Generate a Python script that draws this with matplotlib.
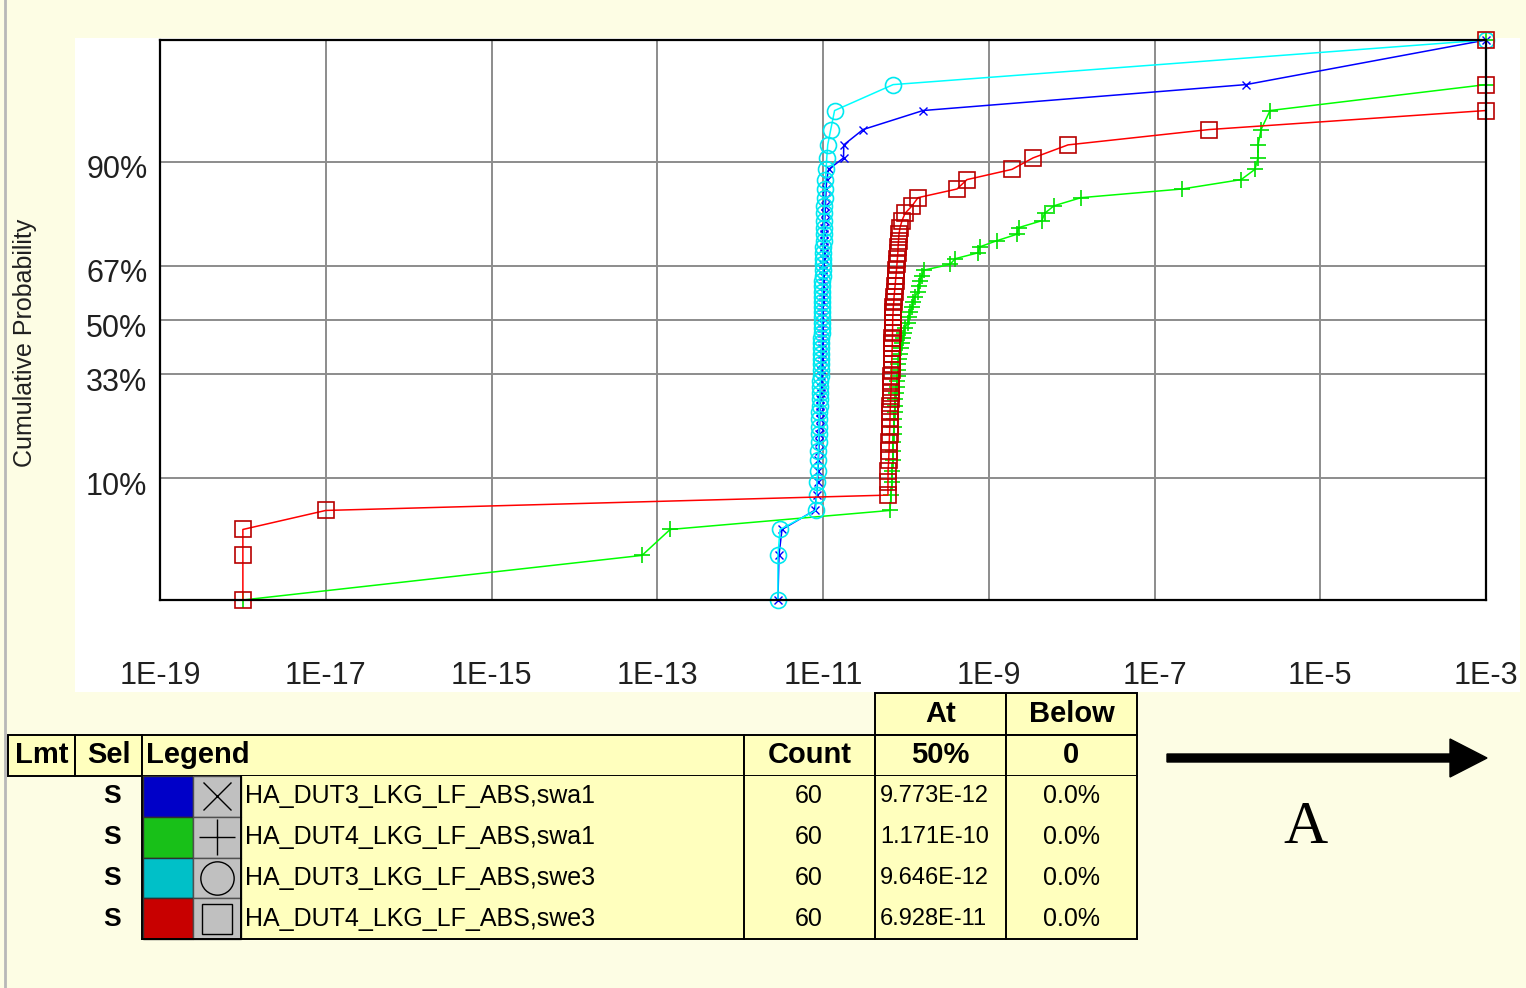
import matplotlib
matplotlib.use("Agg")
import matplotlib.pyplot as plt
from matplotlib.patches import Rectangle, FancyArrow
import matplotlib.transforms as mtransforms
import numpy as np
from statistics import NormalDist

plt.rcParams['font.family'] = ['Liberation Sans', 'DejaVu Sans']

# leakage values (A), sorted, 60 parts per series
blue_vals = [2.86e-12, 2.94e-12, 3.20e-12, 7.9e-12, 8.4e-12, 8.6e-12, 8.7e-12, 8.8e-12, 8.9e-12, 9.0e-12,
             9.05e-12, 9.1e-12, 9.15e-12, 9.2e-12, 9.25e-12, 9.3e-12, 9.35e-12, 9.4e-12, 9.45e-12, 9.5e-12,
             9.53e-12, 9.56e-12, 9.6e-12, 9.63e-12, 9.66e-12, 9.69e-12, 9.72e-12, 9.74e-12, 9.76e-12, 9.77e-12,
             9.78e-12, 9.81e-12, 9.84e-12, 9.87e-12, 9.9e-12, 9.93e-12, 9.96e-12, 1.0e-11, 1.003e-11, 1.006e-11,
             1.01e-11, 1.015e-11, 1.02e-11, 1.025e-11, 1.03e-11, 1.035e-11, 1.04e-11, 1.05e-11, 1.06e-11, 1.07e-11,
             1.08e-11, 1.09e-11, 1.11e-11, 1.17e-11, 1.77e-11, 1.78e-11, 3.04e-11, 1.61e-10, 1.27e-6, 1.0e-3]
green_vals = [1e-18, 6.55e-14, 1.43e-13, 6.43e-11, 6.61e-11, 6.8e-11, 6.8e-11, 7.0e-11, 7.0e-11, 7.0e-11,
              7.1e-11, 7.2e-11, 7.2e-11, 7.3e-11, 7.35e-11, 7.39e-11, 7.6e-11, 7.81e-11, 7.9e-11, 7.95e-11,
              8.0e-11, 8.04e-11, 8.26e-11, 8.49e-11, 8.7e-11, 8.98e-11, 9.24e-11, 9.5e-11, 9.76e-11, 1.06e-10,
              1.09e-10, 1.12e-10, 1.19e-10, 1.22e-10, 1.29e-10, 1.40e-10, 1.44e-10, 1.48e-10, 1.565e-10, 1.66e-10,
              3.41e-10, 3.92e-10, 7.42e-10, 7.79e-10, 1.26e-9, 2.19e-9, 2.30e-9, 4.39e-9, 4.71e-9, 6.13e-9,
              1.30e-8, 2.15e-7, 1.11e-6, 1.63e-6, 1.77e-6, 1.78e-6, 1.93e-6, 2.48e-6, 1.0e-3, 1.0e-3]
cyan_vals = [2.86e-12, 2.86e-12, 3.03e-12, 8.14e-12, 8.37e-12, 8.45e-12, 8.6e-12, 8.7e-12, 8.8e-12, 8.85e-12,
             8.9e-12, 8.95e-12, 9.0e-12, 9.05e-12, 9.1e-12, 9.15e-12, 9.2e-12, 9.25e-12, 9.3e-12, 9.35e-12,
             9.38e-12, 9.42e-12, 9.45e-12, 9.48e-12, 9.51e-12, 9.54e-12, 9.57e-12, 9.6e-12, 9.62e-12, 9.64e-12,
             9.65e-12, 9.68e-12, 9.71e-12, 9.74e-12, 9.77e-12, 9.8e-12, 9.83e-12, 9.86e-12, 9.9e-12, 9.94e-12,
             9.98e-12, 1.0e-11, 1.005e-11, 1.01e-11, 1.015e-11, 1.02e-11, 1.025e-11, 1.03e-11, 1.035e-11, 1.04e-11,
             1.05e-11, 1.06e-11, 1.07e-11, 1.09e-11, 1.11e-11, 1.14e-11, 1.24e-11, 1.38e-11, 7.02e-11, 1.0e-3]
red_vals = [1e-18, 1e-18, 1e-18, 1e-17, 6.08e-11, 6.08e-11, 6.1e-11, 6.2e-11, 6.26e-11, 6.3e-11,
            6.35e-11, 6.4e-11, 6.43e-11, 6.45e-11, 6.5e-11, 6.55e-11, 6.6e-11, 6.63e-11, 6.66e-11, 6.7e-11,
            6.72e-11, 6.75e-11, 6.78e-11, 6.8e-11, 6.83e-11, 6.86e-11, 6.88e-11, 6.9e-11, 6.92e-11, 6.93e-11,
            6.95e-11, 7.0e-11, 7.05e-11, 7.15e-11, 7.2e-11, 7.3e-11, 7.4e-11, 7.5e-11, 7.6e-11, 7.7e-11,
            7.8e-11, 7.9e-11, 8.0e-11, 8.05e-11, 8.15e-11, 8.26e-11, 8.5e-11, 8.98e-11, 9.76e-11, 1.19e-10,
            1.40e-10, 4.14e-10, 5.46e-10, 1.91e-9, 3.42e-9, 9.04e-9, 4.55e-7, 1.0e-3, 1.0e-3, 1.0e-3]

series_names = ["HA_DUT3_LKG_LF_ABS,swa1", "HA_DUT4_LKG_LF_ABS,swa1",
                "HA_DUT3_LKG_LF_ABS,swe3", "HA_DUT4_LKG_LF_ABS,swe3"]
series_counts = ["60", "60", "60", "60"]
series_at50 = ["9.773E-12", "1.171E-10", "9.646E-12", "6.928E-11"]
series_below0 = ["0.0%", "0.0%", "0.0%", "0.0%"]

x_ticks = [1e-19, 1e-17, 1e-15, 1e-13, 1e-11, 1e-9, 1e-7, 1e-5, 1e-3]
x_labels = ["1E-19", "1E-17", "1E-15", "1E-13", "1E-11", "1E-9", "1E-7", "1E-5", "1E-3"]
y_ticks = [0.10, 0.33, 0.50, 0.67, 0.90]
y_labels = ["10%", "33%", "50%", "67%", "90%"]

BG = '#fdfde4'
CELL = '#ffffbe'

_nd = NormalDist()
_ppf = np.vectorize(_nd.inv_cdf, otypes=[float])
_cdf = np.vectorize(_nd.cdf, otypes=[float])


def prob_fwd(p):
    return _ppf(np.clip(np.asarray(p, float), 1e-9, 1 - 1e-9))


def prob_inv(z):
    return _cdf(np.asarray(z, float))


def median_rank(n):
    return (np.arange(1, n + 1) - 0.3) / (n + 0.4)


W, H = 1526, 988
fig = plt.figure(figsize=(W / 100, H / 100), dpi=100)
fig.patch.set_facecolor(BG)

# overlay in pixel coords for background, table, arrow
bg = fig.add_axes([0, 0, 1, 1], zorder=0)
bg.set_xlim(0, W)
bg.set_ylim(H, 0)
bg.axis('off')
bg.add_patch(Rectangle((75, 38), 1445, 654, facecolor='white', edgecolor='none'))
bg.plot([5, 5], [0, H], color='#b8b8b8', lw=2)

ax = fig.add_axes([160 / W, 1 - 600 / H, 1326 / W, 560 / H], zorder=1)
ax.set_facecolor('white')
ax.set_xscale('log')
ax.set_yscale('function', functions=(prob_fwd, prob_inv))

styles = [
    (blue_vals, dict(color='#0000ff', marker='x', ms=6, mec='#0000ff', mfc='none', mew=1.0)),
    (green_vals, dict(color='#00ff00', marker='+', ms=11, mec='#00e000', mew=1.2)),
    (cyan_vals, dict(color='#00ffff', marker='o', ms=11.5, mec='#00e8f0', mfc='none', mew=1.2)),
    (red_vals, dict(color='#ff0000', marker='s', ms=11.5, mec='#b80000', mfc='none', mew=1.2)),
]
for vals, st in styles:
    v = np.sort(np.asarray(vals))
    ax.plot(v, median_rank(len(v)), lw=1.1, clip_on=False, zorder=3, **st)

pr = median_rank(60)
ax.set_xlim(1e-19, 1e-3)
ax.set_ylim(pr[0], pr[-1])
ax.set_xticks(x_ticks)
ax.set_xticklabels(x_labels)
ax.xaxis.set_minor_locator(matplotlib.ticker.NullLocator())
ax.set_yticks(y_ticks)
ax.set_yticklabels(y_labels)
ax.yaxis.set_minor_locator(matplotlib.ticker.NullLocator())
ax.tick_params(axis='x', length=0, pad=44, labelsize=22, labelcolor='#202020')
ax.tick_params(axis='y', length=0, pad=9, labelsize=22, labelcolor='#202020')
shift = mtransforms.ScaledTranslation(0, -5 / 100, fig.dpi_scale_trans)
for lab in ax.get_yticklabels():
    lab.set_transform(lab.get_transform() + shift)
ax.grid(True, color='#8c8c8c', lw=1.4, zorder=1)
ax.set_axisbelow(True)
for s in ax.spines.values():
    s.set_linewidth(1.6)
    s.set_color('black')
    s.set_zorder(4)

fig.text(25 / W, 1 - 343 / H, 'Cumulative Probability', rotation=90,
         fontsize=18, ha='center', va='center', color='#202020')

# ---- table ----
lw_t = 1.4
# top header row (At / Below)
for x0, x1, txt in [(875, 1006, 'At'), (1006, 1137, 'Below')]:
    bg.add_patch(Rectangle((x0, 693), x1 - x0, 42, facecolor=CELL, edgecolor='black', lw=lw_t))
    bg.text((x0 + x1) / 2, 714, txt, fontsize=21, fontweight='bold', ha='center', va='center')

col_edges = [8, 75, 142, 744, 875, 1006, 1137]
hdr = ['Lmt', 'Sel', 'Legend', 'Count', '50%', '0']
for i, txt in enumerate(hdr):
    x0, x1 = col_edges[i], col_edges[i + 1]
    bg.add_patch(Rectangle((x0, 735), x1 - x0, 41, facecolor=CELL, edgecolor='black', lw=lw_t))
    if txt == 'Legend':
        bg.text(x0 + 4, 755, txt, fontsize=21, fontweight='bold', ha='left', va='center')
    else:
        bg.text((x0 + x1) / 2, 755, txt, fontsize=21, fontweight='bold', ha='center', va='center')

row_top = 776
row_h = 40.75
bg.add_patch(Rectangle((142, row_top), 1137 - 142, 4 * row_h, facecolor=CELL, edgecolor='none'))
swatches = ['#0000c8', '#18c018', '#00c0c8', '#c80000']
icons = [('x', 20), ('+', 26), ('o', 24), ('s', 22)]
for r in range(4):
    y0 = row_top + r * row_h
    yc = y0 + row_h / 2
    bg.text(112, yc, 'S', fontsize=19, fontweight='bold', ha='center', va='center')
    bg.add_patch(Rectangle((143, y0), 50, row_h, facecolor=swatches[r], edgecolor='#303030', lw=1))
    bg.add_patch(Rectangle((193, y0), 48, row_h, facecolor='#c0c0c0', edgecolor='#505050', lw=1))
    mk, ms = icons[r]
    bg.plot([217], [yc], marker=mk, ms=ms, mfc='none', mec='black', mew=1.0, ls='none')
    bg.text(245, yc, series_names[r], fontsize=18, ha='left', va='center')
    bg.text(809, yc, series_counts[r], fontsize=18, ha='center', va='center')
    bg.text(880, yc, series_at50[r], fontsize=17, ha='left', va='center')
    bg.text(1071, yc, series_below0[r], fontsize=18, ha='center', va='center')

row_bot = row_top + 4 * row_h
for xv in [142, 241, 744, 875, 1006, 1137]:
    bg.plot([xv, xv], [row_top, row_bot], color='black', lw=lw_t)
bg.plot([142, 1137], [row_bot, row_bot], color='black', lw=lw_t)

# arrow and label
bg.add_patch(FancyArrow(1167, 758, 320, 0, width=8, head_width=38, head_length=37,
                        length_includes_head=True, color='black'))
bg.text(1305, 828, 'A', family=['Liberation Serif', 'DejaVu Serif'], fontsize=44,
        ha='center', va='center')

fig.savefig('out.png', dpi=100, facecolor=fig.get_facecolor())
